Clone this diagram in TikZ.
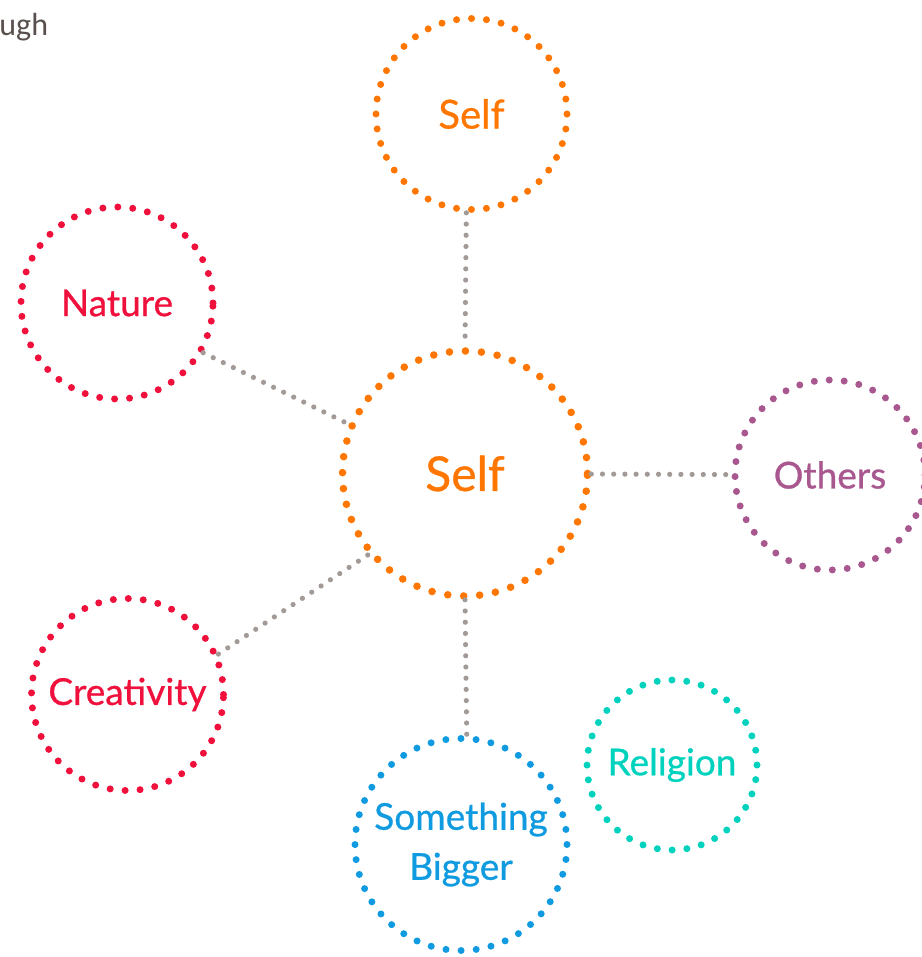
\documentclass[tikz,border=0pt]{standalone}
\usepackage{fontspec}
\setmainfont{Lato}[FakeBold=0.7]
\newfontfamily\notefont{Carlito}

\definecolor{selforange}{RGB}{255,118,0}
\definecolor{naturered}{RGB}{240,16,60}
\definecolor{otherspurple}{RGB}{168,87,143}
\definecolor{biggerblue}{RGB}{16,155,224}
\definecolor{religionteal}{RGB}{0,210,190}
\definecolor{linkgray}{RGB}{162,154,150}
\definecolor{notegray}{RGB}{89,80,77}

\begin{document}
\begin{tikzpicture}[x=0.5pt,y=-0.5pt,
  ring/.style={circle,draw=#1,text=#1,inner sep=0pt,line width=3.5pt,line cap=round,
    dash pattern=on 0pt off 7.5pt,font=\fontsize{18.5}{25}\selectfont},
  link/.style={draw=linkgray,line width=2.6pt,line cap=round,dash pattern=on 0pt off 5.6pt}]
  \useasboundingbox (0,0) rectangle (921,957);

  % left over from the heading
  \node[anchor=base west,inner sep=0pt,text=notegray,font=\notefont\fontsize{16}{18}\selectfont] (note) at (-1,36) {ugh};

  % the rings
  \node[ring=selforange,minimum size=122.5pt,line width=3.8pt,dash pattern=on 0pt off 8pt,
    font=\fontsize{24}{28}\selectfont] (self) at (465,473.5) {Self};
  \node[ring=selforange,minimum size=95.5pt,font=\fontsize{20}{24}\selectfont] (top) at (471.5,114) {Self};
  \node[ring=naturered,minimum size=96pt] (nature) at (117,303) {Nature};
  \node[ring=otherspurple,minimum size=95pt] (others) at (830,475) {Others};
  \node[ring=naturered,minimum size=96pt] (creativity) at (127.5,694.5) {Creativity};
  \node[ring=biggerblue,minimum size=106pt,dash pattern=on 0pt off 7.57pt,align=center] (bigger) at (461,844.5) {Something\\Bigger};
  \node[ring=religionteal,minimum size=85pt,dash pattern=on 0pt off 7.42pt] (religion) at (672,765) {Religion};

  % links to the centre
  \draw[link] (top.-93) -- (self.north);
  \draw[link] (nature.-30) -- (self.157);
  \draw[link] (self) -- (others);
  \draw[link] (creativity.24) -- (self.220);
  \draw[link] (self.south) -- (bigger.87);
\end{tikzpicture}
\end{document}
